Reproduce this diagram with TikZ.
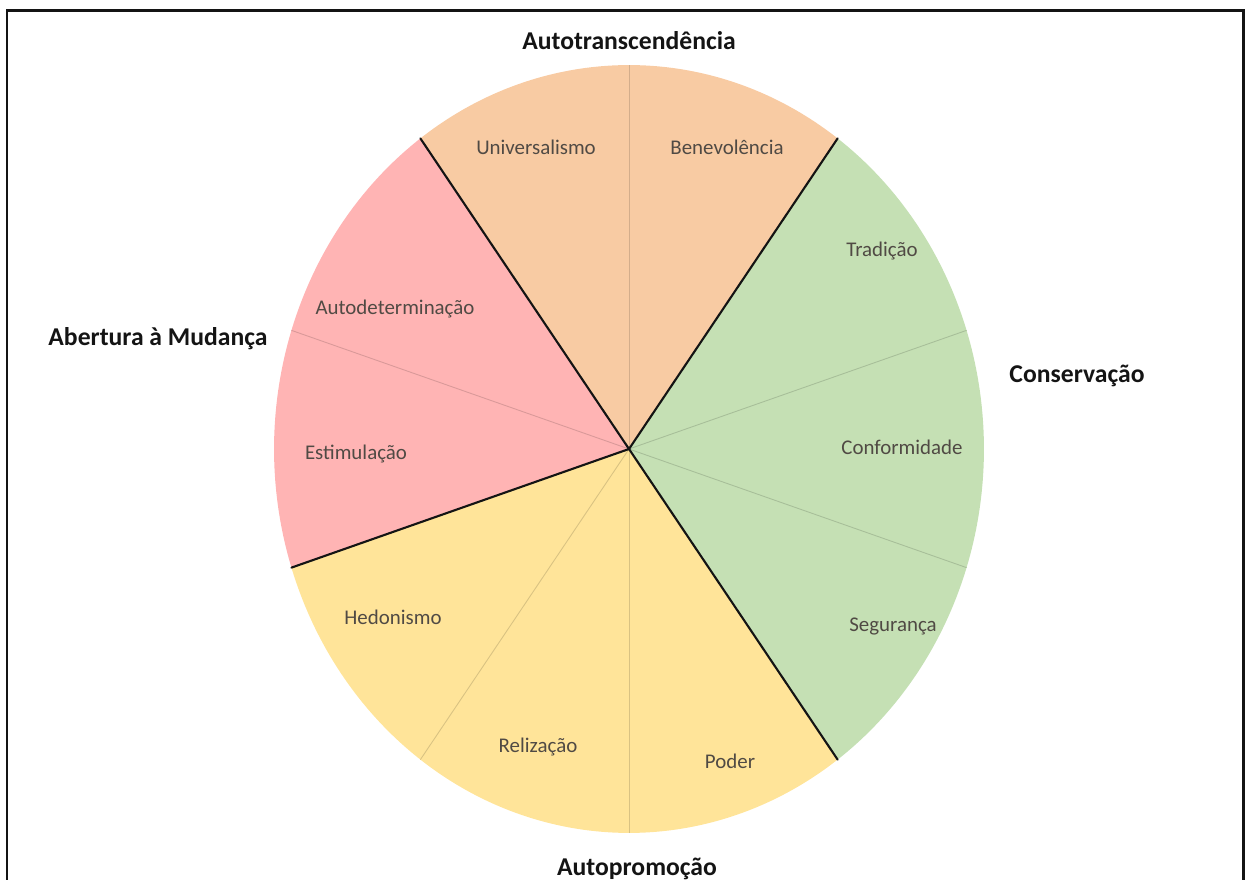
\documentclass[tikz,border=0pt]{standalone}
\usepackage{fontspec}
\setmainfont{Carlito}
\usetikzlibrary{calc}
\definecolor{ink}{RGB}{20,20,20}
\definecolor{txt}{RGB}{80,74,68}
\definecolor{peach}{RGB}{248,203,163}
\definecolor{sage}{RGB}{197,224,180}
\definecolor{rose}{RGB}{255,180,180}
\definecolor{butter}{RGB}{255,228,153}
\tikzset{
  grp/.style={font=\fontsize{14.6}{17}\selectfont\bfseries,text=ink,inner sep=0pt,anchor=base},
  val/.style={font=\fontsize{11.9}{14}\selectfont,text=txt,inner sep=0pt,anchor=base},
  sep/.style={line width=1.2pt,draw=ink,line cap=round},
  subsep/.style={line width=0.5pt},
  frame/.style={line width=1.7pt,draw=ink},
}

\begin{document}
\begin{tikzpicture}[x=0.02cm,y=0.02cm]
\useasboundingbox (0,0) rectangle (1247,879);
\draw[frame] (7,868) rectangle (1243,-20);
\coordinate (ctr) at (629,430);
% group wedges
\foreach \a/\b/\c in {54/126/peach,126/198/rose,198/306/butter,-54/54/sage}
  \fill[\c] (ctr) -- ($(ctr)+(\a:7.1cm and 7.68cm)$)
    arc[start angle=\a,end angle=\b,x radius=7.1cm,y radius=7.68cm] -- cycle;
% value borders
\foreach \a/\c in {90/peach,162/rose,234/butter,270/butter,18/sage,-18/sage}
  \draw[subsep,draw=\c!85!black] (ctr) -- ($(ctr)+(\a:7.1cm and 7.68cm)$);
% group borders
\foreach \a in {54,126,198,306}
  \draw[sep] (ctr) -- ($(ctr)+(\a:7.1cm and 7.68cm)$);
% group labels
\node[grp] (autotr) at (629,829) {Autotranscendência};
\node[grp] (abert) at (158,533) {Abertura à Mudança};
\node[grp] (conserv) at (1077,496) {Conservação};
\node[grp] (autopro) at (637,4) {Autopromoção};
% value labels
\node[val] (univ) at (536,724) {Universalismo};
\node[val] (benev) at (727,724) {Benevolência};
\node[val] (trad) at (882,622) {Tradição};
\node[val] (conf) at (902,424) {Conformidade};
\node[val] (seg) at (893,247) {Segurança};
\node[val] (poder) at (730,111) {Poder};
\node[val] (reliz) at (538,127) {Relização};
\node[val] (hedon) at (393,254) {Hedonismo};
\node[val] (estim) at (356,419) {Estimulação};
\node[val] (autodet) at (395,564) {Autodeterminação};
\end{tikzpicture}
\end{document}
